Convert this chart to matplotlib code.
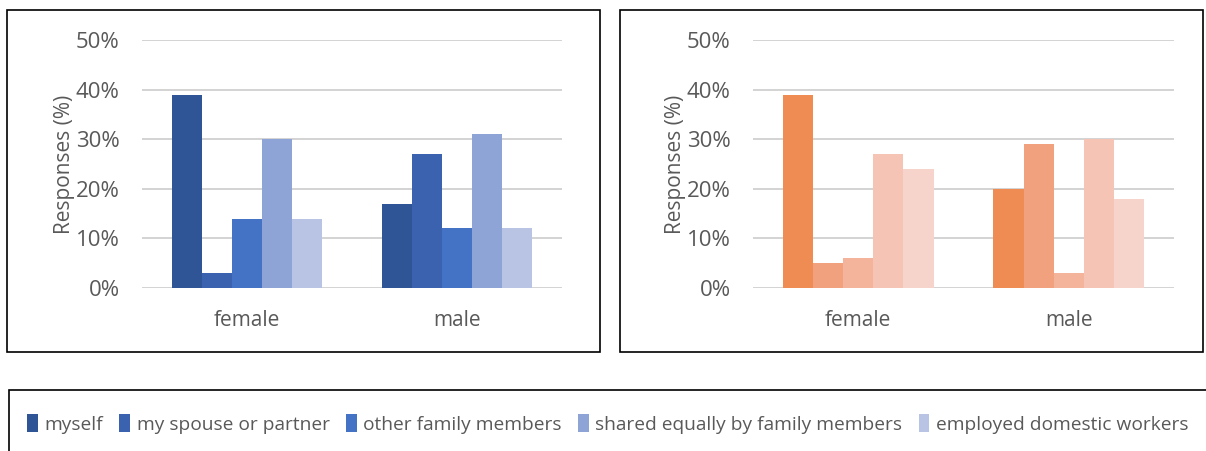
import matplotlib.pyplot as plt
from matplotlib.patches import Rectangle
import numpy as np

# data
groups = ['female', 'male']
series = ['myself', 'my spouse or partner', 'other family members',
          'shared equally by family members', 'employed domestic workers']
left_vals = [[39, 17], [3, 27], [14, 12], [30, 31], [14, 12]]
right_vals = [[39, 20], [5, 29], [6, 3], [27, 30], [24, 18]]

blues = ['#2F5597', '#3A62AE', '#4472C4', '#8FA4D6', '#B9C3E3']
oranges = ['#EE8C54', '#F1A17E', '#F4B49B', '#F6C4B5', '#F7D4CB']

plt.rcParams['font.family'] = ['Open Sans', 'DejaVu Sans']
grey = '#595959'

W, H = 1206, 451
fig = plt.figure(figsize=(W / 100, H / 100), dpi=100)


def px_box(x0, y0, x1, y1):
    return [x0 / W, 1 - y1 / H, (x1 - x0) / W, (y1 - y0) / H]


# panel frames
for x0, y0, x1, y1 in [(7, 10, 600, 352), (620, 10, 1203, 352), (9, 390, 1260, 480)]:
    fig.patches.append(Rectangle((x0 / W, 1 - y1 / H), (x1 - x0) / W, (y1 - y0) / H,
                                 transform=fig.transFigure, fill=False,
                                 edgecolor='black', linewidth=1.2))

bw = 0.143
x = np.arange(len(groups))


def draw(ax, vals, colors):
    for i, (v, c) in enumerate(zip(vals, colors)):
        ax.bar(x + (i - 2) * bw, v, width=bw, color=c, label=series[i], zorder=3)
    ax.set_xlim(-0.5, 1.5)
    ax.set_ylim(0, 50)
    ax.set_yticks(range(0, 51, 10))
    ax.set_yticklabels([f'{t}%' for t in range(0, 51, 10)])
    ax.set_xticks(x)
    ax.set_xticklabels(groups)
    ax.grid(axis='y', color='#D0D0D0', linewidth=1.3, zorder=0)
    for s in ax.spines.values():
        s.set_visible(False)
    ax.tick_params(length=0, colors=grey)
    ax.tick_params(axis='y', pad=16, labelsize=16)
    ax.tick_params(axis='x', pad=16, labelsize=15)
    ax.set_ylabel('Responses (%)', color=grey, fontsize=15, labelpad=1)


ax1 = fig.add_axes(px_box(142, 40, 562, 288))
draw(ax1, left_vals, blues)
ax2 = fig.add_axes(px_box(753, 40, 1174, 288))
draw(ax2, right_vals, oranges)

handles, labels = ax1.get_legend_handles_labels()
fig.legend(handles, labels, loc='center left', bbox_to_anchor=(10 / W, 1 - 424 / H),
           ncol=5, frameon=False, fontsize=13.8, labelcolor=grey,
           handlelength=0.55, handleheight=1.0, handletextpad=0.35, columnspacing=0.85)

fig.savefig('out.png', dpi=100)
